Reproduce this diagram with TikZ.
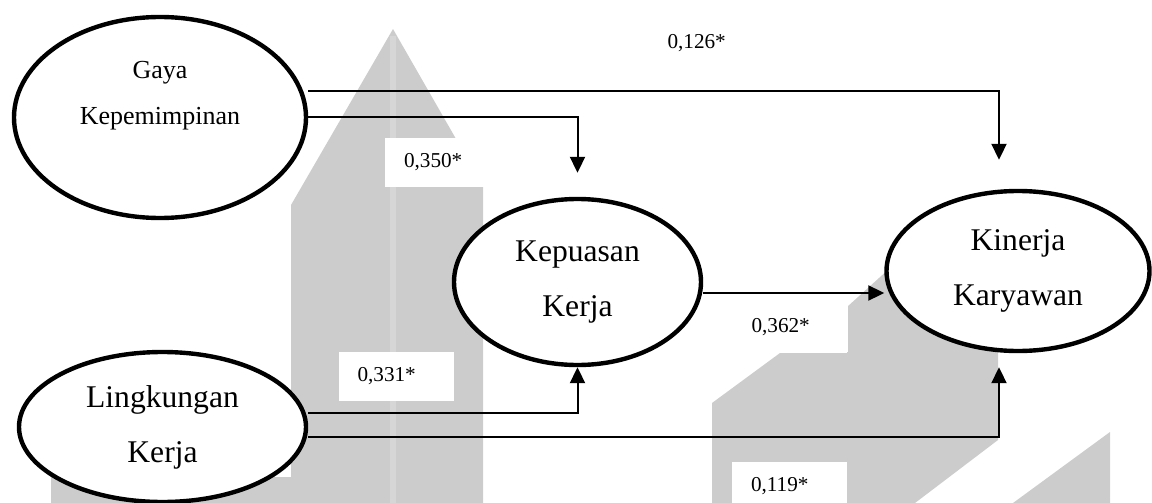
\documentclass[tikz,border=0pt]{standalone}
\usepackage{fontspec}
\setmainfont{Liberation Serif}
\usepackage{tikz}
\usetikzlibrary{arrows.meta, positioning, shapes.geometric}
\definecolor{wmgray}{RGB}{204,204,204}
\definecolor{wmstripe}{RGB}{214,214,214}

\begin{document}
\begin{tikzpicture}[x=0.5pt, y=-0.5pt,
    var/.style={ellipse, draw=black, line width=2.2pt, fill=white,
      align=center, inner sep=0pt},
    big/.style={font=\fontsize{15.8}{27.5}\selectfont},
    small/.style={font=\fontsize{13}{23}\selectfont},
    coef/.style={fill=white, text width=38.5pt, align=left, inner xsep=9.5pt,
      inner ysep=0pt, minimum height=24.5pt, font=\fontsize{10.6}{12}\selectfont},
    arr/.style={-{Triangle[length=8pt, width=7.5pt]}, line width=1pt}]
    \useasboundingbox (0,0) rectangle (1152,503);

    % background shapes
    \fill[wmgray] (291,503) -- (291,205) -- (393,29) -- (483,186) -- (483,503) -- cycle;
    \fill[wmstripe] (390,36) rectangle (396,503);
    \fill[wmgray] (51,477) rectangle (291,503);
    \fill[wmgray] (712,503) -- (712,403) -- (780,353) -- (847,353) -- (847,307)
      -- (890,268) -- (998,268) -- (998,440) -- (915,503) -- cycle;
    \fill[wmgray] (1013,503) -- (1110,432) -- (1110,503) -- cycle;

    % path coefficients
    \node[coef] (c126) at (706,43) {0,126*};
    \node[coef] (c350) at (442.5,162.5) {0,350*};
    \node[coef] (c331) at (396,376.5) {0,331*};
    \node[coef] (c362) at (790,327) {0,362*};
    \node[coef] (c119) at (789.5,486.5) {0,119*};

    % variables
    \node[var, minimum width=146pt, minimum height=100.5pt] (gaya) at (160,117.5) {};
    \node[small, align=center] (gayatext) at ([shift={(0,-22)}]gaya.center) {Gaya\\Kepemimpinan};
    \node[var, big, minimum width=143.5pt, minimum height=75pt] (lingkungan) at (162.5,427) {Lingkungan\\Kerja};
    \node[var, big, minimum width=123.5pt, minimum height=83pt] (kepuasan) at (577.5,282) {Kepuasan\\Kerja};
    \node[var, big, minimum width=131.5pt, minimum height=80pt] (kinerja) at (1018,271) {Kinerja\\Karyawan};

    \draw[arr] ([shift={(0,-27)}]gaya.east) -| ([shift={(-19,-29)}]kinerja.north);
    \draw[arr] ([shift={(0,-1)}]gaya.east) -| ([shift={(0,-24)}]kepuasan.north);
    \draw[arr] ([shift={(0,11)}]kepuasan.east) coordinate (kk) -- (kk -| kinerja.west);
    \draw[arr] ([shift={(0,-14)}]lingkungan.east) -| (kepuasan.south);
    \draw[arr] ([shift={(0,10)}]lingkungan.east) -| ([shift={(-19,14)}]kinerja.south);
  \end{tikzpicture}
\end{document}
